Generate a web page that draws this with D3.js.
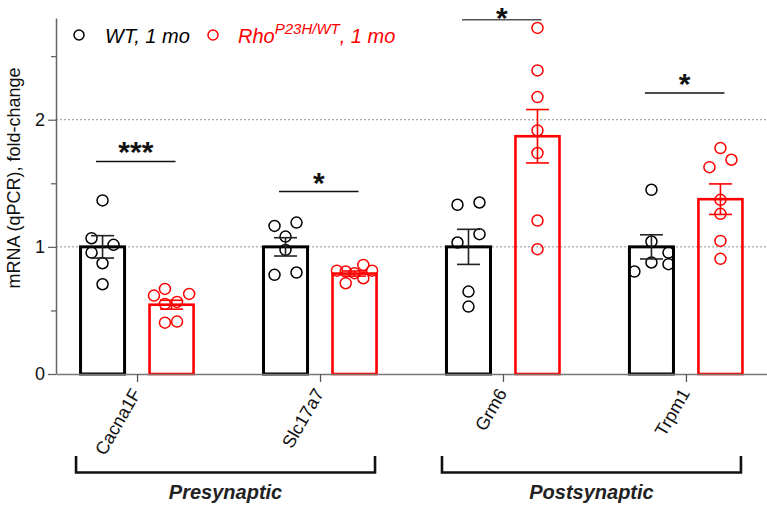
<!DOCTYPE html>
<html>
<head>
<meta charset="utf-8">
<script src="https://cdn.jsdelivr.net/npm/d3@7"></script>
<style>
  html, body { margin: 0; padding: 0; background: #fff; }
  svg { display: block; font-family: "Liberation Sans", Arial, sans-serif; }
</style>
</head>
<body>
<svg id="chart" width="767" height="505"></svg>
<script>
// ---------- data ----------
const genes = ["Cacna1F", "Slc17a7", "Grm6", "Trpm1"];
const groupKeys = ["WT", "Rho"];
const yTickValues = [0, 0.5, 1, 1.5, 2, 2.5];
const yTickLabels = ["0", "", "1", "", "2", ""];
const gridValues = [1, 2];

const wtMean = [1.0, 1.0, 1.0, 1.0];
const wtSem  = [0.088, 0.072, 0.138, 0.095];
const rhoMean = [0.545, 0.79, 1.87, 1.375];
const rhoSem  = [0.035, 0.02, 0.21, 0.12];

const wtPoints = [
  [1.365, 1.068, 1.016, 0.955, 0.871, 0.706],
  [1.165, 1.191, 1.081, 0.976, 0.780, 0.798],
  [1.331, 1.349, 1.100, 1.034, 0.648, 0.530],
  [1.449, 1.042, 0.877, 0.806, 0.955, 0.864]
];
const rhoPoints = [
  [0.617, 0.669, 0.630, 0.551, 0.567, 0.404, 0.412],
  [0.813, 0.806, 0.793, 0.858, 0.813, 0.714, 0.753],
  [2.722, 2.388, 2.178, 1.916, 1.738, 1.207, 0.982],
  [1.777, 1.685, 1.627, 1.370, 1.260, 1.047, 0.906]
];
// jitter slots (in dot widths) for the scattered points
const wtSlots = [
  [0, -1, 1, -1, 0, 0],
  [-1, 1, 0, 0, -1, 1],
  [-1, 1, 1, -1, 0, 0],
  [0, 0, 0, -1.55, 1.55, 1.55]
];
const rhoSlots = [
  [-1.6, -0.6, 1.6, -0.6, 0.5, -0.6, 0.5],
  [-1.6, -0.8, 0, 0.8, 1.6, -0.8, 0.8],
  [0, 0, 0, 0, 0, 0, 0],
  [0, 1, -1, 0, 0, 0, 0]
];

const sigLabels = ["***", "*", "*", "*"];
const sigLevels = [1.672, 1.435, 2.787, 2.21];

const regions = ["Presynaptic", "Postsynaptic"];
const regionGenes = [["Cacna1F", "Slc17a7"], ["Grm6", "Trpm1"]];

const legendLabels = ["WT, 1 mo", "Rho"];
const legendSup = "P23H/WT";
const legendTail = ", 1 mo";

// ---------- styling ----------
const RED = "#ff0000";
const colors = { WT: "#000000", Rho: RED };
const errColors = { WT: "#222222", Rho: RED };

const svg = d3.select("#chart");
const x0 = d3.scalePoint().domain(genes).range([56, 767]).padding(0.443);
const x1 = d3.scaleBand().domain(groupKeys).range([-69, 69]).paddingInner(0.362).paddingOuter(0.181);
const y = d3.scaleLinear().domain([0, 2.8]).range([374, 18]);

// gridlines
svg.append("g").selectAll("line").data(gridValues).join("line")
  .attr("x1", 56).attr("x2", 767)
  .attr("y1", d => y(d)).attr("y2", d => y(d))
  .attr("stroke", "#777").attr("stroke-width", 0.8).attr("stroke-dasharray", "2,2");

// y axis
const yAxis = svg.append("g").attr("transform", "translate(56,0)")
  .call(d3.axisLeft(y).tickValues(yTickValues)
    .tickFormat((d, i) => yTickLabels[i]).tickSize(8).tickSizeOuter(0).tickPadding(3));
yAxis.select(".domain").attr("stroke", "#666").attr("stroke-width", 1.5);
yAxis.selectAll(".tick line").attr("stroke", "#666").attr("stroke-width", 1.3)
  .attr("x2", (d, i) => yTickLabels[i] === "" ? -5 : -8);
yAxis.selectAll(".tick text").attr("font-size", 18).attr("fill", "#111")
  .attr("font-family", "Liberation Sans, Arial, sans-serif");

// y label
svg.append("text")
  .attr("transform", "translate(20,178) rotate(-90)")
  .attr("text-anchor", "middle").attr("font-size", 18).attr("fill", "#111")
  .text("mRNA (qPCR), fold-change");

// bars data
const bars = [];
genes.forEach((g, i) => {
  bars.push({ gene: g, key: "WT", mean: wtMean[i], sem: wtSem[i], pts: wtPoints[i], slots: wtSlots[i] });
  bars.push({ gene: g, key: "Rho", mean: rhoMean[i], sem: rhoSem[i], pts: rhoPoints[i], slots: rhoSlots[i] });
});

const bw = x1.bandwidth();
const gBars = svg.append("g");
gBars.selectAll("rect").data(bars).join("rect")
  .attr("x", d => x0(d.gene) + x1(d.key))
  .attr("y", d => y(d.mean))
  .attr("width", bw)
  .attr("height", d => y(0) - y(d.mean))
  .attr("fill", "none")
  .attr("stroke", d => colors[d.key])
  .attr("stroke-width", d => d.key === "WT" ? 3 : 2.6);

// points
const dotR = 5.5;
const gPts = svg.append("g");
bars.forEach(b => {
  const cx = x0(b.gene) + x1(b.key) + bw / 2;
  gPts.selectAll(null).data(b.pts.map((v, j) => ({ v, s: b.slots[j] }))).join("circle")
    .attr("cx", d => cx + d.s * 2 * dotR)
    .attr("cy", d => y(d.v))
    .attr("r", dotR)
    .attr("fill", "none")
    .attr("stroke", colors[b.key])
    .attr("stroke-width", 1.5);
});

// error bars
const gErr = svg.append("g");
bars.forEach(b => {
  const cx = x0(b.gene) + x1(b.key) + bw / 2;
  const col = errColors[b.key];
  const g = gErr.append("g").attr("stroke", col).attr("stroke-width", 1.6);
  g.append("line").attr("x1", cx).attr("x2", cx).attr("y1", y(b.mean - b.sem)).attr("y2", y(b.mean + b.sem));
  [b.mean - b.sem, b.mean + b.sem].forEach(v => {
    g.append("line").attr("x1", cx - 11.5).attr("x2", cx + 11.5).attr("y1", y(v)).attr("y2", y(v));
  });
});

// x axis
const xAxis = svg.append("g").attr("transform", "translate(0,374)")
  .call(d3.axisBottom(x0).tickSize(8).tickSizeOuter(0).tickFormat(""));
xAxis.select(".domain").attr("stroke", "#777").attr("stroke-width", 1.3);
xAxis.selectAll(".tick line").attr("stroke", "#555").attr("stroke-width", 1.3);

// x labels
svg.append("g").selectAll("text").data(genes).join("text")
  .attr("transform", d => `translate(${x0(d) - 1},390) rotate(-60)`)
  .attr("text-anchor", "end").attr("dy", "0.35em")
  .attr("font-size", 18).attr("fill", "#111")
  .text(d => d);

// significance
const gSig = svg.append("g");
genes.forEach((g, i) => {
  const xl = x0(g) + x1("WT") + bw / 2 - 6.5;
  const xr = x0(g) + x1("Rho") + bw / 2 + 4;
  const ly = y(sigLevels[i]);
  gSig.append("line").attr("x1", xl).attr("x2", xr).attr("y1", ly).attr("y2", ly)
    .attr("stroke", i === 2 ? "#555" : "#111").attr("stroke-width", 1.5);
  gSig.append("text").attr("x", (xl + xr) / 2).attr("y", Math.max(ly + 1, 28))
    .attr("text-anchor", "middle").attr("font-size", 30).attr("font-weight", "bold")
    .attr("fill", "#111").text(sigLabels[i]);
});

// region brackets
const gReg = svg.append("g");
regions.forEach((r, i) => {
  const a = x0(regionGenes[i][0]) - 61;
  const b = x0(regionGenes[i][1]) + 55;
  gReg.append("path")
    .attr("d", `M${a},456 V472.5 H${b} V456`)
    .attr("fill", "none").attr("stroke", "#111").attr("stroke-width", 2.6);
  gReg.append("text").attr("x", (a + b) / 2).attr("y", 499)
    .attr("text-anchor", "middle").attr("font-size", 20)
    .attr("font-weight", "bold").attr("font-style", "italic").attr("fill", "#222")
    .text(r);
});

// legend
const gLeg = svg.append("g");
gLeg.append("circle").attr("cx", 79).attr("cy", 35).attr("r", 5)
  .attr("fill", "none").attr("stroke", "#000").attr("stroke-width", 1.5);
gLeg.append("text").attr("x", 105).attr("y", 43).attr("font-size", 20)
  .attr("font-style", "italic").attr("fill", "#000").text(legendLabels[0]);
gLeg.append("circle").attr("cx", 213).attr("cy", 35).attr("r", 5)
  .attr("fill", "none").attr("stroke", RED).attr("stroke-width", 1.5);
const t2 = gLeg.append("text").attr("x", 238).attr("y", 43).attr("font-size", 20)
  .attr("font-style", "italic").attr("fill", RED);
t2.append("tspan").text(legendLabels[1]);
t2.append("tspan").attr("font-size", 15).attr("dy", -9).text(legendSup);
t2.append("tspan").attr("dy", 9).text(legendTail);
</script>
</body>
</html>
